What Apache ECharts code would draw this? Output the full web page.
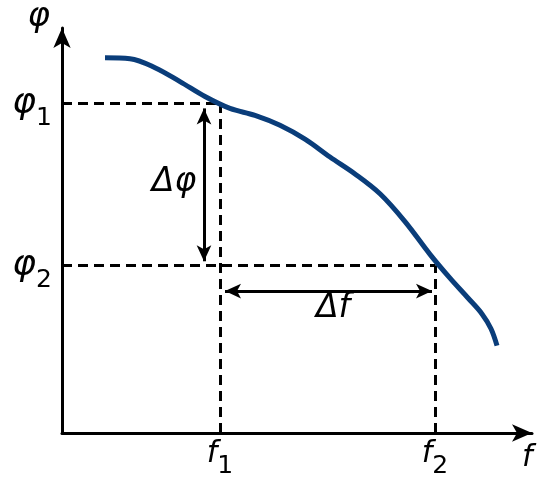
<!DOCTYPE html>
<html>
<head>
<meta charset="utf-8">
<script src="https://cdn.jsdelivr.net/npm/echarts@6/dist/echarts.min.js"></script>
<style>
  html, body { margin: 0; padding: 0; background: #fff; }
  #chart { width: 538px; height: 481px; }
</style>
</head>
<body>
<div id="chart"></div>
<script>
// curve phi(f)
var curveF = [43, 68, 93, 118, 143, 168, 193, 218, 243, 268, 293, 318, 343, 368, 388, 406, 420, 429, 435];
var curvePhi = [378, 377, 368, 354, 339, 327, 320, 310, 296, 278, 261, 241, 213, 180, 156, 136, 120, 105, 88];

// the two marked points
var fMarks = [158, 373];
var phiMarks = [332, 169];
var fTickNames = ["1", "2"];
var phiTickNames = ["1", "2"];

var xMax = 470;
var yMax = 408;

var curveData = curveF.map(function (f, i) {
  return [f, curvePhi[i]];
});

var dash = { type: [10, 6], width: 3, color: "#000" };
var font = "DejaVu Sans";

var myChart = echarts.init(document.getElementById("chart"));
var option = {
  backgroundColor: "#fff",
  animation: false,
  grid: { left: 62, right: 6, top: 25, bottom: 48 },
  xAxis: {
    type: "value",
    min: 0,
    max: xMax,
    name: "f",
    nameLocation: "end",
    nameGap: -10,
    nameTextStyle: {
      fontFamily: font, fontStyle: "italic", fontSize: 30, color: "#000",
      verticalAlign: "top", padding: [10, 0, 0, 0]
    },
    splitLine: { show: false },
    axisTick: { show: false },
    axisLine: {
      lineStyle: { color: "#000", width: 3 },
      symbol: ["none", "arrow"],
      symbolSize: [13, 20]
    },
    axisLabel: {
      customValues: fMarks,
      margin: 6,
      formatter: function (v) {
        var i = fMarks.indexOf(v);
        return "{a|f}{b|" + fTickNames[i] + "}";
      },
      rich: {
        a: { fontFamily: font, fontStyle: "italic", fontSize: 30, color: "#000", lineHeight: 40, verticalAlign: "top" },
        b: { fontFamily: font, fontSize: 25, color: "#000", lineHeight: 40, verticalAlign: "bottom", padding: [20, 0, 0, 0] }
      }
    }
  },
  yAxis: {
    type: "value",
    min: 0,
    max: yMax,
    name: "φ",
    nameLocation: "end",
    nameGap: -6,
    nameTextStyle: {
      fontFamily: font, fontStyle: "italic", fontSize: 34, color: "#000",
      align: "right", padding: [0, 12, 0, 0]
    },
    splitLine: { show: false },
    axisTick: { show: false },
    axisLine: {
      lineStyle: { color: "#000", width: 3 },
      symbol: ["none", "arrow"],
      symbolSize: [13, 20]
    },
    axisLabel: {
      customValues: phiMarks,
      margin: 10,
      formatter: function (v) {
        var i = phiMarks.indexOf(v);
        return "{a|φ}{b|" + phiTickNames[i] + "}";
      },
      rich: {
        a: { fontFamily: font, fontStyle: "italic", fontSize: 36, color: "#000" },
        b: { fontFamily: font, fontSize: 25, color: "#000", padding: [30, 0, 0, 0] }
      }
    }
  },
  series: [
    {
      name: "curve",
      type: "line",
      smooth: 0.35,
      symbol: "none",
      data: curveData,
      lineStyle: { color: "#0a3d7a", width: 5 },
      z: 5
    },
    {
      name: "guides",
      type: "line",
      data: [],
      markLine: {
        silent: true,
        symbol: ["none", "none"],
        label: { show: false },
        lineStyle: dash,
        data: [
          [{ coord: [0, phiMarks[0]] }, { coord: [fMarks[0], phiMarks[0]] }],
          [{ coord: [fMarks[0], 0] }, { coord: [fMarks[0], phiMarks[0]] }],
          [{ coord: [0, phiMarks[1]] }, { coord: [fMarks[1], phiMarks[1]] }],
          [{ coord: [fMarks[1], 0] }, { coord: [fMarks[1], phiMarks[1]] }]
        ]
      }
    },
    {
      name: "deltas",
      type: "line",
      data: [],
      markLine: {
        silent: true,
        symbol: ["arrow", "arrow"],
        symbolSize: [11, 16],
        label: { show: false },
        lineStyle: { type: "solid", width: 3, color: "#000" },
        data: [
          [{ coord: [fMarks[0] - 16, phiMarks[0] - 5] }, { coord: [fMarks[0] - 16, phiMarks[1] + 4] }],
          [{ coord: [fMarks[0] + 5, phiMarks[1] - 26] }, { coord: [fMarks[1] - 3, phiMarks[1] - 26] }]
        ]
      }
    },
    {
      name: "deltaLabels",
      type: "scatter",
      symbolSize: 0,
      itemStyle: { color: "#000", opacity: 1 },
      data: [
        { value: [112, 252], name: "Δφ" },
        { value: [271, 125], name: "Δf" }
      ],
      label: {
        show: true,
        position: "inside",
        formatter: "{b}",
        fontFamily: font,
        fontStyle: "italic",
        fontSize: 33,
        color: "#000",
        textBorderWidth: 0
      }
    }
  ]
};
myChart.setOption(option);
</script>
</body>
</html>
